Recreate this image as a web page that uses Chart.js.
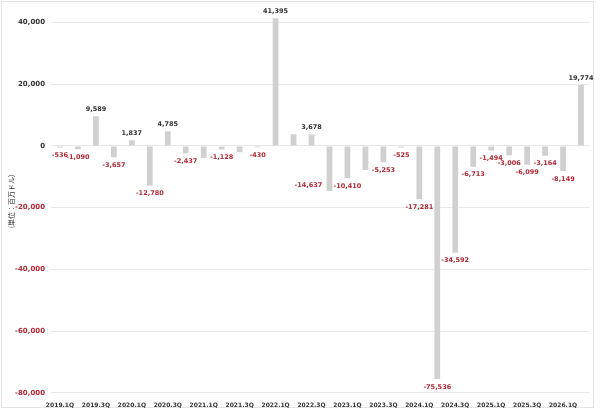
<!DOCTYPE html>
<html>
<head>
<meta charset="utf-8">
<script src="https://cdn.jsdelivr.net/npm/chart.js@4"></script>
<style>
html,body{margin:0;padding:0;background:#fff;}
#wrap{width:600px;height:410px;position:relative;}
</style>
</head>
<body>
<div id="wrap"><canvas id="c" width="600" height="410"></canvas></div>
<script>
const quarters = ["2019.1Q","2019.2Q","2019.3Q","2019.4Q","2020.1Q","2020.2Q","2020.3Q","2020.4Q",
  "2021.1Q","2021.2Q","2021.3Q","2021.4Q","2022.1Q","2022.2Q","2022.3Q","2022.4Q",
  "2023.1Q","2023.2Q","2023.3Q","2023.4Q","2024.1Q","2024.2Q","2024.3Q","2024.4Q",
  "2025.1Q","2025.2Q","2025.3Q","2025.4Q","2026.1Q","2026.2Q"];
const values = [-536,-1090,9589,-3657,1837,-12780,4785,-2437,
  -3900,-1128,-2000,-430,41395,3800,3678,-14637,
  -10410,-7800,-5253,-525,-17281,-75536,-34592,-6713,
  -1494,-3006,-6099,-3164,-8149,19774];
const showLabel = [true,true,true,true,true,true,true,true,
  false,true,false,true,true,false,true,true,
  true,false,true,true,true,true,true,true,
  true,true,true,true,true,true];
const yTicks = [-80000,-60000,-40000,-20000,0,20000,40000];
const yTitle = "(単位：百万ドル)";

const RED = '#B02A36';
const DARK = '#333333';
const FONT = "'DejaVu Sans', Verdana, sans-serif";
const labelShiftIdx = 15; // label moved to the left of its bar in the original

const fmt = v => v.toLocaleString('en-US');

const framePlugin = {
  id: 'frame',
  beforeDraw(chart) {
    const c = chart.ctx;
    c.save();
    c.fillStyle = '#fff';
    c.fillRect(0, 0, chart.width, chart.height);
    c.strokeStyle = '#e4e4e4';
    c.lineWidth = 1;
    c.strokeRect(1.5, 1.5, 592, 406);
    c.restore();
  }
};

const labelPlugin = {
  id: 'barLabels',
  afterDatasetsDraw(chart) {
    const c = chart.ctx;
    const meta = chart.getDatasetMeta(0);
    c.save();
    c.font = "bold 6.5px " + FONT;
    c.textAlign = 'center';
    c.textBaseline = 'middle';
    meta.data.forEach((bar, i) => {
      if (!showLabel[i]) return;
      const v = values[i];
      let x = bar.x, y;
      if (v >= 0) { y = bar.y - 7; c.fillStyle = DARK; }
      else { y = bar.y + 8; c.fillStyle = RED; }
      if (i === labelShiftIdx) { x = bar.x - 21; y = bar.y - 6; }
      c.fillText(fmt(v), x, y);
    });
    c.restore();
  }
};

new Chart(document.getElementById('c'), {
  type: 'bar',
  data: {
    labels: quarters,
    datasets: [{
      data: values,
      backgroundColor: '#D0D0D0',
      borderWidth: 0,
      barPercentage: 0.32,
      categoryPercentage: 1.0
    }]
  },
  options: {
    responsive: false,
    animation: false,
    devicePixelRatio: 1,
    layout: { padding: { left: 4, right: 10, top: 2, bottom: 0 } },
    plugins: { legend: { display: false }, tooltip: { enabled: false } },
    scales: {
      x: {
        grid: { display: false },
        border: { display: false },
        ticks: {
          autoSkip: false, maxRotation: 0, minRotation: 0, padding: 1,
          color: DARK,
          font: { family: FONT, size: 6, weight: 'bold' },
          callback: (v, i) => (i % 2 === 0 ? quarters[i] : '')
        }
      },
      y: {
        min: -80000, max: 44000,
        afterBuildTicks: s => { s.ticks = yTicks.map(v => ({ value: v })); },
        afterFit: s => { s.width = 47; },
        grid: { color: '#E8E8E8', lineWidth: 1, drawTicks: false },
        border: { display: false },
        ticks: {
          padding: 6,
          color: ctx => (ctx.tick && ctx.tick.value < 0 ? RED : DARK),
          font: { family: FONT, size: 7, weight: 'bold' },
          callback: v => fmt(v)
        },
        title: {
          display: true, text: yTitle, color: DARK,
          font: { family: "'Noto Sans CJK JP', sans-serif", size: 7 },
          padding: { top: 3, bottom: 0 }
        }
      }
    }
  },
  plugins: [framePlugin, labelPlugin]
});
</script>
</body>
</html>
